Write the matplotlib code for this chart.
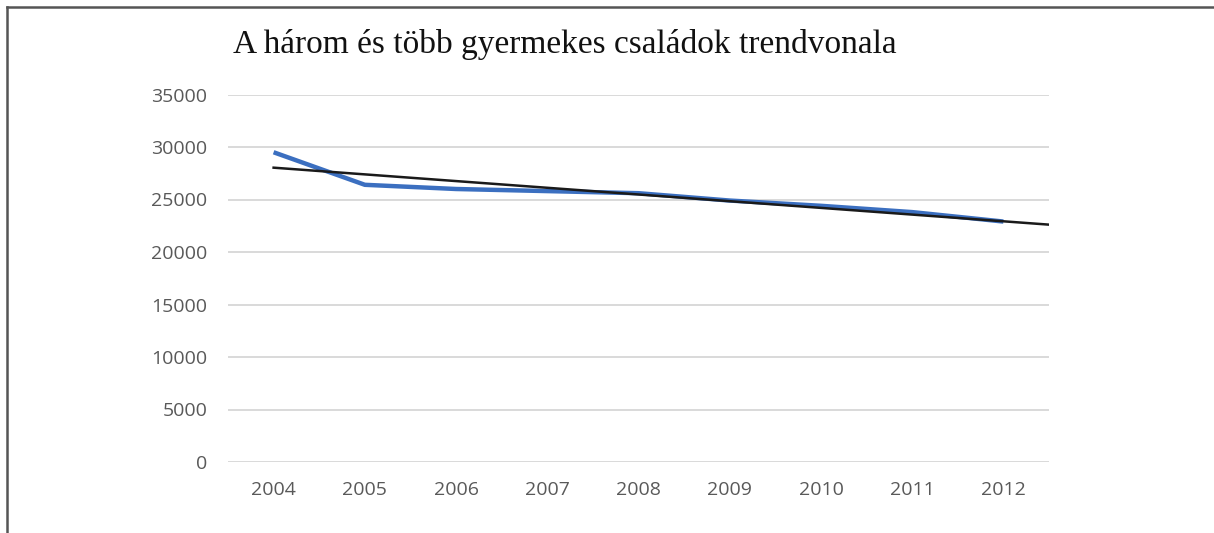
import numpy as np
import matplotlib.pyplot as plt
from matplotlib.lines import Line2D

years = ['2004', '2005', '2006', '2007', '2008', '2009', '2010', '2011', '2012']
families = [29500, 26400, 26000, 25800, 25600, 24900, 24400, 23800, 22900]
y_ticks = [0, 5000, 10000, 15000, 20000, 25000, 30000, 35000]

W, H = 1214, 533
fig = plt.figure(figsize=(W / 100, H / 100), dpi=100)
ax = fig.add_axes([228 / W, 1 - 462 / H, (1049 - 228) / W, (462 - 94.5) / H])

x = np.arange(len(years))
ax.plot(x, families, color='#3b6fc0', lw=3.2, solid_capstyle='butt', zorder=3)

# linear trend, extended half a period forward
coef = np.polyfit(x, families, 1)
xt = np.array([0, len(years) - 0.5])
ax.plot(xt, np.polyval(coef, xt), color='#1a1a1a', lw=1.8, zorder=4)

ax.set_xlim(-0.5, len(years) - 0.5)
ax.set_ylim(0, 35000)
ax.set_yticks(y_ticks)
ax.set_xticks(x)
ax.set_xticklabels(years)
ax.grid(axis='y', color='#d9d9d9', lw=1.4)
ax.set_axisbelow(True)
for s in ax.spines.values():
    s.set_visible(False)
ax.tick_params(length=0, labelsize=14, labelcolor='#595959')
ax.tick_params(axis='y', pad=15)
ax.tick_params(axis='x', pad=14)
for lab in ax.get_xticklabels() + ax.get_yticklabels():
    lab.set_fontfamily('Open Sans')

fig.text(233 / W, 1 - 45 / H, 'A három és több gyermekes családok trendvonala',
         family='Liberation Serif', fontsize=24, va='center', ha='left', color='#111111')

# picture frame (left and top edges)
fig.add_artist(Line2D([7 / W, 7 / W], [0, 1 - 7 / H], color='#555555', lw=1.8))
fig.add_artist(Line2D([7 / W, 1], [1 - 7 / H, 1 - 7 / H], color='#555555', lw=1.8))

fig.savefig('out.png', dpi=100)
